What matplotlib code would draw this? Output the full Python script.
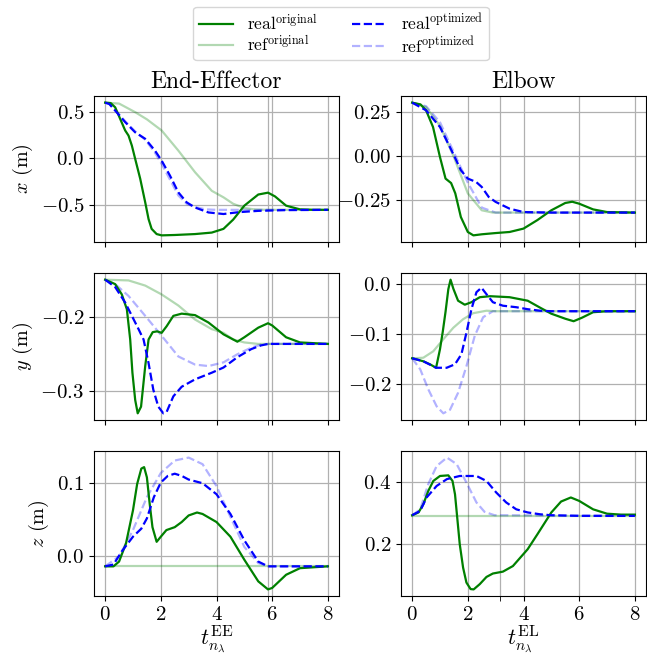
import matplotlib
matplotlib.use("Agg")
import matplotlib.pyplot as plt

plt.rcParams.update({
    "font.family": "serif",
    "font.serif": ["cmr10"],
    "mathtext.fontset": "cm",
    "axes.formatter.use_mathtext": True,
    "axes.unicode_minus": True,
})

# ---------------- data ----------------
T_END_EE = 5.86
T_END_EL = 3.14

# End-Effector x
ee_x_real_orig_t = [0, 0.2, 0.36, 0.54, 0.72, 0.84, 0.96, 1.08, 1.26, 1.44, 1.56, 1.67, 1.85, 2.03, 2.5, 3.23, 3.83, 4.25, 4.6, 5.0, 5.5, 5.85, 6.1, 6.5, 7.0, 7.5, 8.0]
ee_x_real_orig = [0.6, 0.595, 0.55, 0.425, 0.30, 0.245, 0.137, -0.007, -0.22, -0.475, -0.655, -0.76, -0.816, -0.83, -0.826, -0.816, -0.80, -0.76, -0.66, -0.51, -0.39, -0.37, -0.41, -0.51, -0.55, -0.555, -0.555]
ee_x_ref_orig_t = [0, 0.5, 1.08, 1.5, 2.03, 2.63, 3.23, 3.83, 4.25, 4.6, 5.0, 5.4, 5.86, 8.0]
ee_x_ref_orig = [0.6, 0.59, 0.497, 0.42, 0.30, 0.083, -0.15, -0.35, -0.42, -0.49, -0.535, -0.552, -0.555, -0.555]
ee_x_real_opt_t = [0, 0.15, 0.36, 0.72, 1.08, 1.44, 1.79, 2.03, 2.33, 2.63, 2.93, 3.23, 3.71, 4.25, 4.8, 5.5, 6.5, 8.0]
ee_x_real_opt = [0.6, 0.585, 0.515, 0.39, 0.28, 0.21, 0.083, -0.025, -0.187, -0.367, -0.475, -0.53, -0.583, -0.60, -0.58, -0.566, -0.558, -0.555]
ee_x_ref_opt_t = [0, 0.15, 0.36, 0.72, 1.08, 1.44, 1.79, 2.03, 2.33, 2.63, 2.93, 3.23, 3.6, 4.0, 8.0]
ee_x_ref_opt = [0.6, 0.585, 0.52, 0.40, 0.29, 0.20, 0.06, -0.06, -0.23, -0.40, -0.49, -0.525, -0.55, -0.555, -0.555]

# End-Effector y
ee_y_real_orig_t = [0, 0.36, 0.6, 0.78, 0.9, 0.98, 1.08, 1.17, 1.29, 1.44, 1.56, 1.71, 1.87, 2.03, 2.21, 2.45, 2.75, 3.23, 3.71, 4.25, 4.75, 5.0, 5.5, 5.85, 6.0, 6.5, 7.0, 8.0]
ee_y_real_orig = [-0.149, -0.155, -0.169, -0.189, -0.23, -0.275, -0.312, -0.33, -0.321, -0.266, -0.23, -0.22, -0.219, -0.221, -0.212, -0.198, -0.195, -0.197, -0.207, -0.223, -0.233, -0.227, -0.214, -0.208, -0.211, -0.227, -0.234, -0.236]
ee_y_ref_orig_t = [0, 0.84, 1.44, 2.03, 2.63, 3.23, 3.83, 4.25, 4.6, 5.0, 5.5, 5.86, 8.0]
ee_y_ref_orig = [-0.149, -0.15, -0.157, -0.169, -0.184, -0.203, -0.216, -0.221, -0.23, -0.234, -0.236, -0.236, -0.236]
ee_y_real_opt_t = [0, 0.36, 0.72, 0.96, 1.2, 1.38, 1.56, 1.73, 1.91, 2.09, 2.21, 2.45, 2.75, 3.23, 3.83, 4.25, 4.75, 5.25, 5.6, 5.86, 8.0]
ee_y_real_opt = [-0.149, -0.159, -0.18, -0.198, -0.216, -0.23, -0.262, -0.298, -0.321, -0.33, -0.328, -0.307, -0.294, -0.284, -0.275, -0.268, -0.254, -0.243, -0.238, -0.236, -0.236]
ee_y_ref_opt_t = [0, 0.36, 0.84, 1.44, 2.03, 2.63, 3.23, 3.71, 4.25, 4.75, 5.25, 5.6, 5.86, 8.0]
ee_y_ref_opt = [-0.149, -0.155, -0.171, -0.198, -0.225, -0.253, -0.264, -0.266, -0.261, -0.25, -0.241, -0.237, -0.236, -0.236]

# End-Effector z
ee_z_real_orig_t = [0, 0.3, 0.5, 0.75, 1.0, 1.15, 1.3, 1.4, 1.5, 1.6, 1.7, 1.85, 2.0, 2.2, 2.5, 2.75, 3.0, 3.3, 3.5, 4.0, 4.5, 5.0, 5.5, 5.85, 6.0, 6.5, 7.0, 8.0]
ee_z_real_orig = [-0.0135, -0.0135, -0.007, 0.018, 0.063, 0.099, 0.12, 0.122, 0.108, 0.072, 0.04, 0.02, 0.027, 0.036, 0.04, 0.047, 0.056, 0.06, 0.058, 0.047, 0.027, -0.0045, -0.034, -0.045, -0.043, -0.025, -0.016, -0.0135]
ee_z_ref_orig_t = [0, 8.0]
ee_z_ref_orig = [-0.0135, -0.0135]
ee_z_real_opt_t = [0, 0.3, 0.6, 1.0, 1.3, 1.5, 1.75, 2.0, 2.25, 2.5, 2.75, 3.0, 3.5, 4.0, 4.5, 5.0, 5.5, 5.85, 8.0]
ee_z_real_opt = [-0.0135, -0.011, 0.007, 0.027, 0.038, 0.052, 0.081, 0.101, 0.11, 0.113, 0.11, 0.105, 0.1, 0.085, 0.058, 0.022, -0.007, -0.0135, -0.0135]
ee_z_ref_opt_t = [0, 0.5, 1.0, 1.5, 2.0, 2.5, 3.0, 3.5, 4.0, 4.5, 5.0, 5.5, 5.86, 8.0]
ee_z_ref_opt = [-0.0135, 0.0, 0.036, 0.081, 0.114, 0.131, 0.135, 0.126, 0.096, 0.054, 0.013, -0.009, -0.0135, -0.0135]

# Elbow x
el_x_real_orig_t = [0, 0.3, 0.5, 0.75, 1.0, 1.2, 1.4, 1.55, 1.75, 2.0, 2.2, 2.5, 3.0, 3.5, 4.0, 4.5, 5.0, 5.5, 5.75, 6.0, 6.5, 7.0, 8.0]
el_x_real_orig = [0.30, 0.29, 0.257, 0.163, -0.006, -0.127, -0.152, -0.21, -0.343, -0.427, -0.446, -0.44, -0.433, -0.427, -0.408, -0.36, -0.305, -0.264, -0.257, -0.268, -0.30, -0.315, -0.318]
el_x_ref_orig_t = [0, 0.5, 1.0, 1.5, 2.0, 2.5, 2.9, 8.0]
el_x_ref_orig = [0.30, 0.275, 0.17, -0.006, -0.21, -0.305, -0.318, -0.318]
el_x_real_opt_t = [0, 0.5, 1.0, 1.5, 1.75, 2.0, 2.3, 2.5, 2.75, 3.0, 3.5, 4.0, 5.0, 8.0]
el_x_real_opt = [0.30, 0.257, 0.163, 0.004, -0.08, -0.127, -0.146, -0.174, -0.23, -0.258, -0.296, -0.315, -0.318, -0.318]
el_x_ref_opt_t = [0, 0.5, 1.0, 1.5, 2.0, 2.5, 3.0, 8.0]
el_x_ref_opt = [0.30, 0.28, 0.19, 0.02, -0.15, -0.29, -0.318, -0.318]

# Elbow y
el_y_real_orig_t = [0, 0.4, 0.64, 0.86, 1.0, 1.1, 1.2, 1.3, 1.38, 1.48, 1.65, 1.89, 2.13, 2.43, 2.8, 3.5, 4.15, 4.6, 5.0, 5.5, 5.8, 6.1, 6.5, 7.0, 8.0]
el_y_real_orig = [-0.148, -0.154, -0.16, -0.167, -0.13, -0.095, -0.055, -0.01, 0.009, -0.009, -0.033, -0.041, -0.036, -0.026, -0.024, -0.026, -0.033, -0.047, -0.059, -0.069, -0.074, -0.067, -0.056, -0.054, -0.054]
el_y_ref_orig_t = [0, 0.4, 0.76, 1.12, 1.48, 1.83, 2.19, 2.67, 3.02, 8.0]
el_y_ref_orig = [-0.148, -0.147, -0.134, -0.11, -0.087, -0.07, -0.058, -0.053, -0.054, -0.054]
el_y_real_opt_t = [0, 0.4, 0.86, 1.24, 1.54, 1.77, 1.95, 2.13, 2.31, 2.49, 2.67, 2.9, 3.26, 3.74, 4.15, 4.6, 5.0, 8.0]
el_y_real_opt = [-0.148, -0.154, -0.167, -0.167, -0.16, -0.14, -0.097, -0.05, -0.016, -0.007, -0.02, -0.036, -0.043, -0.046, -0.05, -0.053, -0.054, -0.054]
el_y_ref_opt_t = [0, 0.29, 0.58, 0.88, 1.12, 1.36, 1.65, 1.95, 2.25, 2.55, 2.9, 8.0]
el_y_ref_opt = [-0.148, -0.17, -0.21, -0.244, -0.258, -0.251, -0.217, -0.164, -0.103, -0.066, -0.054, -0.054]

# Elbow z
el_z_real_orig_t = [0, 0.23, 0.4, 0.58, 0.76, 1.0, 1.3, 1.45, 1.54, 1.62, 1.71, 1.83, 1.95, 2.1, 2.21, 2.43, 2.67, 2.9, 3.26, 3.62, 4.15, 4.5, 5.0, 5.35, 5.7, 6.0, 6.5, 7.0, 7.5, 8.0]
el_z_real_orig = [0.293, 0.302, 0.328, 0.371, 0.403, 0.419, 0.421, 0.403, 0.36, 0.285, 0.2, 0.125, 0.077, 0.056, 0.055, 0.072, 0.095, 0.106, 0.112, 0.13, 0.184, 0.232, 0.302, 0.337, 0.35, 0.339, 0.312, 0.298, 0.295, 0.295]
el_z_ref_orig_t = [0, 8.0]
el_z_ref_orig = [0.291, 0.291]
el_z_real_opt_t = [0, 0.29, 0.52, 0.88, 1.25, 1.71, 2.31, 2.67, 3.02, 3.38, 3.74, 4.15, 4.6, 5.0, 6.0, 8.0]
el_z_real_opt = [0.293, 0.307, 0.35, 0.387, 0.409, 0.419, 0.419, 0.403, 0.366, 0.334, 0.312, 0.302, 0.296, 0.293, 0.291, 0.291]
el_z_ref_opt_t = [0, 0.29, 0.58, 0.88, 1.25, 1.6, 1.95, 2.31, 2.6, 2.96, 8.0]
el_z_ref_opt = [0.293, 0.312, 0.393, 0.451, 0.478, 0.457, 0.398, 0.334, 0.304, 0.293, 0.291]

x_ticks = [0, 2, 4, 6, 8]
titles = ["End-Effector", "Elbow"]
ylabels = [r"$x$ (m)", r"$y$ (m)", r"$z$ (m)"]
xlabels = [r"$t^{\rm EE}_{n_\lambda}$", r"$t^{\rm EL}_{n_\lambda}$"]
legend_labels = [r"real$^{\rm original}$", r"ref$^{\rm original}$",
                 r"real$^{\rm optimized}$", r"ref$^{\rm optimized}$"]

data = {
    (0, 0): [(ee_x_real_orig_t, ee_x_real_orig), (ee_x_ref_orig_t, ee_x_ref_orig), (ee_x_real_opt_t, ee_x_real_opt), (ee_x_ref_opt_t, ee_x_ref_opt)],
    (1, 0): [(ee_y_real_orig_t, ee_y_real_orig), (ee_y_ref_orig_t, ee_y_ref_orig), (ee_y_real_opt_t, ee_y_real_opt), (ee_y_ref_opt_t, ee_y_ref_opt)],
    (2, 0): [(ee_z_real_orig_t, ee_z_real_orig), (ee_z_ref_orig_t, ee_z_ref_orig), (ee_z_real_opt_t, ee_z_real_opt), (ee_z_ref_opt_t, ee_z_ref_opt)],
    (0, 1): [(el_x_real_orig_t, el_x_real_orig), (el_x_ref_orig_t, el_x_ref_orig), (el_x_real_opt_t, el_x_real_opt), (el_x_ref_opt_t, el_x_ref_opt)],
    (1, 1): [(el_y_real_orig_t, el_y_real_orig), (el_y_ref_orig_t, el_y_ref_orig), (el_y_real_opt_t, el_y_real_opt), (el_y_ref_opt_t, el_y_ref_opt)],
    (2, 1): [(el_z_real_orig_t, el_z_real_orig), (el_z_ref_orig_t, el_z_ref_orig), (el_z_real_opt_t, el_z_real_opt), (el_z_ref_opt_t, el_z_ref_opt)],
}

styles = [
    dict(color="green", lw=1.6, ls="-"),
    dict(color="green", lw=1.6, ls="-", alpha=0.3),
    dict(color="blue", lw=1.6, ls="--"),
    dict(color="blue", lw=1.6, ls="--", alpha=0.3),
]
zorders = [3, 2, 4, 1]

fig, axes = plt.subplots(3, 2, figsize=(6.47, 6.58), dpi=100, sharex="col")

W = 647.0
H = 658.0
col_x = [(94, 339), (401, 646)]
row_y = [(96, 242), (273, 420), (451, 596)]
for r in range(3):
    for c in range(2):
        x0, x1 = col_x[c]
        y0, y1 = row_y[r]
        axes[r, c].set_position([x0 / W, 1 - y1 / H, (x1 - x0) / W, (y1 - y0) / H])

end_times = [T_END_EE, T_END_EL]
handles = []
for (r, c), series in data.items():
    ax = axes[r, c]
    for k, ((t, v), st) in enumerate(zip(series, styles)):
        h, = ax.plot(t, v, zorder=zorders[k], **st)
        if r == 0 and c == 0:
            handles.append(h)
    ax.set_xticks(x_ticks)
    ax.set_xticks([end_times[c]], minor=True)
    ax.tick_params(which="both", length=3.5, labelsize=15)
    ax.grid(True, which="both", color="#b0b0b0", lw=0.9)
    ax.set_axisbelow(True)
    if c == 0:
        ax.set_ylabel(ylabels[r], fontsize=14.5)
    if r == 0:
        ax.set_title(titles[c], fontsize=17, pad=6)
    if r == 2:
        ax.set_xlabel(xlabels[c], fontsize=16, labelpad=0)

axes[0, 0].set_yticks([-0.5, 0.0, 0.5])
axes[0, 1].set_yticks([-0.25, 0.0, 0.25])
axes[1, 0].set_yticks([-0.3, -0.2])
axes[1, 1].set_yticks([-0.2, -0.1, 0.0])
axes[2, 0].set_yticks([0.0, 0.1])
axes[2, 1].set_yticks([0.2, 0.4])

fig.legend(handles, legend_labels,
           loc="upper center", bbox_to_anchor=(0.527, 1.003), ncol=2,
           fontsize=12.5, frameon=True, columnspacing=2.0, handlelength=2.0,
           borderpad=0.3, labelspacing=0.1, handletextpad=0.8)

fig.savefig("out.png", dpi=100)
